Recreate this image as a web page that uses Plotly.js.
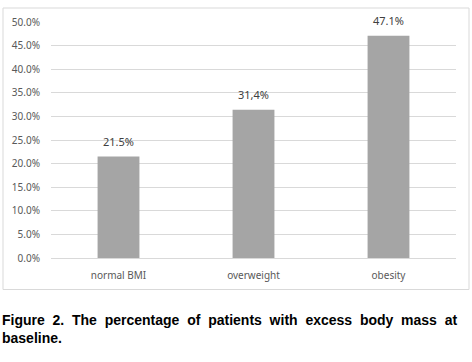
<!DOCTYPE html>
<html>
<head>
<meta charset="utf-8">
<script src="https://cdn.plot.ly/plotly-3.0.1.min.js"></script>
<style>html,body{margin:0;padding:0;background:#fff;}#chart{width:472px;height:362px;}</style>
</head>
<body>
<div id="chart"></div>
<script>
var categories = ["normal BMI", "overweight", "obesity"];
var values = [0.215, 0.314, 0.471];
var valueLabels = ["21.5%", "31,4%", "47.1%"];
var tickValues = [0, 0.05, 0.10, 0.15, 0.20, 0.25, 0.30, 0.35, 0.40, 0.45, 0.50];
var tickLabels = ["0.0%", "5.0%", "10.0%", "15.0%", "20.0%", "25.0%", "30.0%", "35.0%", "40.0%", "45.0%", "50.0%"];
var captionLines = ["Figure 2. The percentage of patients with excess body mass at", "baseline."];

var trace = {
  type: "bar",
  x: categories,
  y: values,
  marker: {color: "#a5a5a5", line: {width: 0}},
  width: 0.31,
  hoverinfo: "none"
};

var annotations = categories.map(function (c, i) {
  return {
    x: c, y: values[i], xref: "x", yref: "y",
    text: valueLabels[i], showarrow: false,
    yanchor: "bottom", yshift: 6,
    font: {family: "Noto Sans, sans-serif", size: 11, color: "#404040"}
  };
});
function justifySpaces(s) { return s.split(" ").join("&nbsp; "); }
annotations.push({
  xref: "paper", yref: "paper", x: -50/405, y: -(311-258)/236,
  xanchor: "left", yanchor: "top", showarrow: false, align: "left", borderpad: 0,
  text: "<b>" + justifySpaces(captionLines[0]) + "<br>" + captionLines[1] + "</b>",
  font: {family: "Liberation Sans, Arial, sans-serif", size: 14, color: "#000"}
});

var layout = {
  width: 472, height: 362,
  margin: {l: 51, r: 16, t: 22, b: 104, pad: 0},
  paper_bgcolor: "#ffffff", plot_bgcolor: "#ffffff",
  showlegend: false,
  font: {family: "Noto Sans, sans-serif", color: "#595959", size: 10},
  xaxis: {
    type: "category", showgrid: false, zeroline: false, showline: false,
    ticks: "", ticklabelstandoff: 10,
    tickfont: {size: 10, color: "#595959"}, fixedrange: true
  },
  yaxis: {
    range: [0, 0.5], tickmode: "array", tickvals: tickValues, ticktext: tickLabels,
    showgrid: true, gridcolor: "#d9d9d9", gridwidth: 1,
    zeroline: true, zerolinecolor: "#d9d9d9", zerolinewidth: 1,
    showline: false, ticks: "", ticklabelstandoff: 10,
    tickfont: {size: 10, color: "#595959"}, fixedrange: true
  },
  shapes: [{
    type: "rect", xref: "paper", yref: "paper",
    x0: -48/405, x1: 1 + 13/405, y0: -(289.5-258)/236, y1: 1 + 14/236,
    line: {color: "#d9d9d9", width: 1}, fillcolor: "rgba(0,0,0,0)", layer: "below"
  }],
  annotations: annotations
};

Plotly.newPlot("chart", [trace], layout, {displayModeBar: false, staticPlot: true});
</script>
</body>
</html>
